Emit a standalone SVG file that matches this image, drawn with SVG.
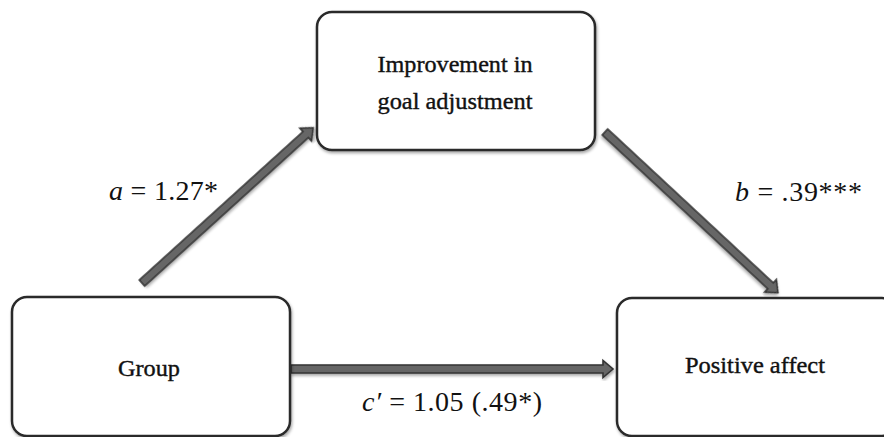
<svg xmlns="http://www.w3.org/2000/svg" width="884" height="437" viewBox="0 0 884 437">
<style>
.box{fill:#fff;stroke:#2a2a2a;stroke-width:2.5;filter:url(#sh)}
.lbl{font-family:"Liberation Serif","DejaVu Serif",serif;font-size:24px;fill:#111;text-anchor:middle;stroke:#111;stroke-width:0.4}
.eq{font-family:"Liberation Serif","DejaVu Serif",serif;font-size:28px;fill:#111}
.arr{fill:#666;stroke:#333;stroke-width:1.6;stroke-linejoin:miter;filter:url(#sh)}
</style>
<defs>
<filter id="sh" x="-10%" y="-10%" width="120%" height="130%">
<feDropShadow dx="1" dy="2" stdDeviation="1.5" flood-color="#000" flood-opacity="0.35"/>
</filter>
</defs>
<rect width="884" height="437" fill="#fff"/>
<g id="connectors">
<g id="edge-a" transform="translate(142,283) rotate(-42.2)">
<polygon class="arr" points="0,-4 221,-4 221,-8.5 231,0 221,8.5 221,4 0,4"/>
</g>
<g id="edge-b" transform="translate(605,132) rotate(42.9)">
<polygon class="arr" points="0,-4 226,-4 226,-8.5 236,0 226,8.5 226,4 0,4"/>
</g>
<g id="edge-c" transform="translate(291,369)">
<polygon class="arr" points="0,-4 312,-4 312,-8.5 322,0 312,8.5 312,4 0,4"/>
</g>
<text class="eq" x="109" y="200" textLength="109" lengthAdjust="spacing"><tspan font-style="italic">a</tspan> = 1.27*</text>
<text class="eq" x="735" y="201" textLength="127" lengthAdjust="spacing"><tspan font-style="italic">b</tspan> = .39***</text>
<text class="eq" x="362" y="411" textLength="180" lengthAdjust="spacing"><tspan font-style="italic">c′</tspan> = 1.05 (.49*)</text>
</g>
<g id="node-improvement">
<rect class="box" x="317" y="12" width="278" height="138" rx="15"/>
<text class="lbl" x="455" y="72" textLength="155" lengthAdjust="spacingAndGlyphs">Improvement in</text>
<text class="lbl" x="455" y="109" textLength="155" lengthAdjust="spacingAndGlyphs">goal adjustment</text>
</g>
<g id="node-group">
<rect class="box" x="12" y="297" width="278" height="139" rx="15"/>
<text class="lbl" x="149" y="376" textLength="62" lengthAdjust="spacingAndGlyphs">Group</text>
</g>
<g id="node-positive">
<rect class="box" x="617" y="298" width="280" height="138" rx="15"/>
<text class="lbl" x="755" y="373" textLength="140" lengthAdjust="spacingAndGlyphs">Positive affect</text>
</g>
</svg>
